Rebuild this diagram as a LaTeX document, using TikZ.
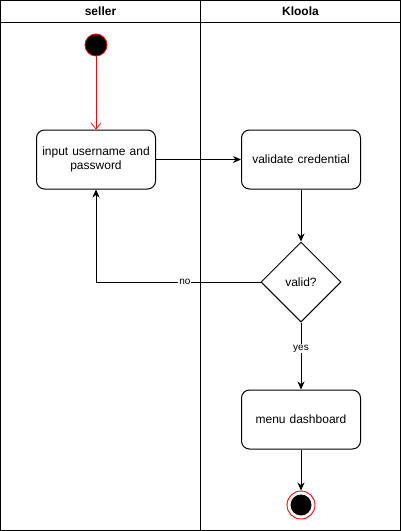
\documentclass[tikz,border=0pt]{standalone}
\usepackage{fontspec}
\setmainfont{Liberation Sans}
\usetikzlibrary{arrows.meta,shapes.geometric}
\begin{document}
\begin{tikzpicture}[x=1pt,y=-1pt,
  every node/.style={font=\fontsize{12}{14.5}\selectfont},
  lane/.style={draw,line width=1pt},
  act/.style={draw,line width=1pt,rounded corners=8pt,minimum width=119pt,minimum height=59pt,align=center,text width=118pt,inner sep=0pt},
  dec/.style={draw,line width=1pt,diamond,minimum width=80pt,minimum height=80pt,inner sep=0pt,aspect=1},
  flow/.style={line width=1pt,-{Stealth[length=8pt,width=7pt,inset=2.5pt]}},
  lbl/.style={fill=white,inner sep=1pt,font=\fontsize{10}{12}\selectfont}]
\useasboundingbox (0,0) rectangle (401,531);
\draw[lane] (0.5,0.5) rectangle (400.5,530.5);
\draw[lane] (0.5,22) -- (400.5,22);
\draw[lane] (200.5,0.5) -- (200.5,530.5);
\node[font=\fontsize{12}{14}\bfseries] (h1) at (100.5,11.5) {seller};
\node[font=\fontsize{12}{14}\bfseries] (h2) at (300.5,11.5) {Kloola};
\node[circle,fill=black,draw=red,line width=0.8pt,minimum size=22pt,inner sep=0pt] (start) at (96,45) {};
\node[act] (input) at (96,159.5) {input username and\\password};
\node[act] (valid) at (301,159.5) {validate credential};
\node[dec] (dec) at (301,282) {valid?};
\node[act] (menu) at (301,419.5) {menu dashboard};
\node[circle,draw=red,line width=0.9pt,minimum size=28pt,inner sep=0pt] (endo) at (301,505) {};
\node[circle,fill=black,minimum size=21pt,inner sep=0pt] (endi) at (301,505) {};
\draw[red,line width=0.7pt,-{Straight Barb[length=6pt,width=10pt]}] (start) -- (input);
\draw[flow] (input) -- (valid);
\draw[flow] (valid) -- (dec);
\draw[flow] (dec.west) -| node[pos=0.23,lbl]{no} (input.south);
\draw[flow] (dec.south) -- node[pos=0.39,lbl]{yes} (menu.north);
\draw[flow] (menu) -- (endo);
\end{tikzpicture}
\end{document}
